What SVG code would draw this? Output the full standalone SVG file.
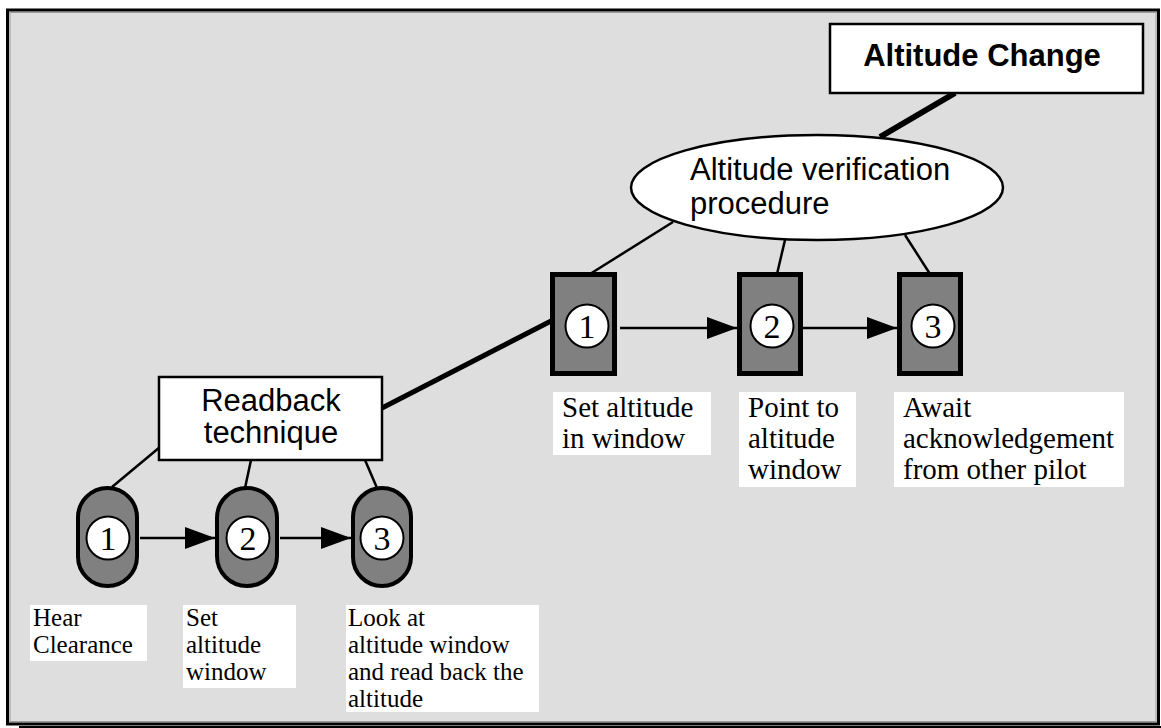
<svg xmlns="http://www.w3.org/2000/svg" width="1161" height="728" viewBox="0 0 1161 728">
<style>
.sans{font-family:"Liberation Sans",Arial,sans-serif;fill:#000}
.serif{font-family:"Liberation Serif","Times New Roman",serif;fill:#000}
.digit{font-family:"Liberation Serif","Times New Roman",serif;fill:#000;font-size:34px;text-anchor:middle}
.box{fill:#fff;stroke:#000;stroke-width:2.5}
.step{fill:#808080;stroke:#000;stroke-width:5}
.pill{fill:#808080;stroke:#000;stroke-width:4}
.num{fill:#fff;stroke:#000;stroke-width:2}
.lbl{fill:#fff;stroke:none}
.thin{stroke:#000;stroke-width:2.5;fill:none}
.thick{stroke:#000;fill:none}
</style>
<defs>
<marker id="ah" markerUnits="userSpaceOnUse" markerWidth="30" markerHeight="22" refX="30" refY="11" orient="auto">
<path d="M0,0 L30,11 L0,22 Z" fill="#000"/>
</marker>
</defs>
<rect x="7.5" y="10" width="1151" height="714" fill="#dedede" stroke="#000" stroke-width="3"/>
<rect x="10" y="12.5" width="1146" height="709" fill="none" stroke="#9a9a9a" stroke-width="1"/>
<line x1="19" y1="727" x2="1161" y2="727" stroke="#000" stroke-width="2"/>

<g id="connectors">
<line class="thick" x1="955" y1="93" x2="880" y2="137" stroke-width="6"/>
<line class="thick" x1="382" y1="408" x2="553" y2="320" stroke-width="5"/>
<line class="thin" x1="673" y1="222" x2="590" y2="274"/>
<line class="thin" x1="785" y1="240" x2="777" y2="274"/>
<line class="thin" x1="905" y1="235" x2="930" y2="274"/>
<line class="thin" x1="160" y1="447" x2="112" y2="487"/>
<line class="thin" x1="251" y1="460" x2="245" y2="488"/>
<line class="thin" x1="365" y1="460" x2="377" y2="488"/>
<line class="thin" x1="620" y1="328" x2="737" y2="328" marker-end="url(#ah)"/>
<line class="thin" x1="803" y1="328" x2="897" y2="328" marker-end="url(#ah)"/>
<line class="thin" x1="140" y1="538" x2="215" y2="538" marker-end="url(#ah)"/>
<line class="thin" x1="280" y1="538" x2="351" y2="538" marker-end="url(#ah)"/>
</g>

<g id="altitude-change">
<rect class="box" x="830" y="24" width="313" height="69"/>
<text class="sans" x="982" y="66" font-size="31" font-weight="bold" text-anchor="middle">Altitude Change</text>
</g>

<g id="verification">
<ellipse cx="817" cy="187.5" rx="186" ry="52.5" fill="#fff" stroke="#000" stroke-width="2.5"/>
<text class="sans" x="690" y="180" font-size="31">Altitude verification</text>
<text class="sans" x="690" y="214" font-size="31">procedure</text>
</g>

<g id="readback">
<rect class="box" x="159" y="377" width="223" height="83"/>
<text class="sans" x="271" y="411" font-size="31" text-anchor="middle">Readback</text>
<text class="sans" x="271" y="443" font-size="31" text-anchor="middle">technique</text>
</g>

<g id="v1">
<rect class="step" x="552.5" y="274.5" width="62" height="99"/>
<circle class="num" cx="587" cy="326" r="21.5"/>
<text class="digit" x="587" y="337.5">1</text>
</g>
<g id="v2">
<rect class="step" x="739.5" y="274.5" width="61" height="99"/>
<circle class="num" cx="772" cy="326" r="21.5"/>
<text class="digit" x="772" y="337.5">2</text>
</g>
<g id="v3">
<rect class="step" x="899.5" y="274.5" width="61" height="99"/>
<circle class="num" cx="933" cy="326" r="21.5"/>
<text class="digit" x="933" y="337.5">3</text>
</g>

<g id="r1">
<rect class="pill" x="78" y="488" width="59" height="98" rx="29.5"/>
<circle class="num" cx="108" cy="538" r="21.5"/>
<text class="digit" x="108" y="549.5">1</text>
</g>
<g id="r2">
<rect class="pill" x="217" y="488" width="60" height="98" rx="30"/>
<circle class="num" cx="248" cy="538" r="21.5"/>
<text class="digit" x="248" y="549.5">2</text>
</g>
<g id="r3">
<rect class="pill" x="353" y="488" width="58" height="98" rx="29"/>
<circle class="num" cx="382" cy="538" r="21.5"/>
<text class="digit" x="382" y="549.5">3</text>
</g>

<g id="label-v1">
<rect class="lbl" x="553" y="392" width="158" height="63"/>
<text class="serif" font-size="29"><tspan x="562" y="417">Set altitude</tspan><tspan x="562" y="448">in window</tspan></text>
</g>
<g id="label-v2">
<rect class="lbl" x="739" y="392" width="117" height="95"/>
<text class="serif" font-size="29"><tspan x="748" y="417">Point to</tspan><tspan x="748" y="448">altitude</tspan><tspan x="748" y="479">window</tspan></text>
</g>
<g id="label-v3">
<rect class="lbl" x="894" y="392" width="230" height="95"/>
<text class="serif" font-size="29"><tspan x="903" y="417">Await</tspan><tspan x="903" y="448">acknowledgement</tspan><tspan x="903" y="479">from other pilot</tspan></text>
</g>

<g id="label-r1">
<rect class="lbl" x="30" y="605" width="117" height="56"/>
<text class="serif" font-size="25"><tspan x="33" y="626">Hear</tspan><tspan x="33" y="653">Clearance</tspan></text>
</g>
<g id="label-r2">
<rect class="lbl" x="183" y="605" width="113" height="83"/>
<text class="serif" font-size="25"><tspan x="186" y="626">Set</tspan><tspan x="186" y="653">altitude</tspan><tspan x="186" y="680">window</tspan></text>
</g>
<g id="label-r3">
<rect class="lbl" x="346" y="605" width="193" height="107"/>
<text class="serif" font-size="25"><tspan x="348" y="626">Look at</tspan><tspan x="348" y="653">altitude window</tspan><tspan x="348" y="680">and read back the</tspan><tspan x="348" y="707">altitude</tspan></text>
</g>
</svg>
